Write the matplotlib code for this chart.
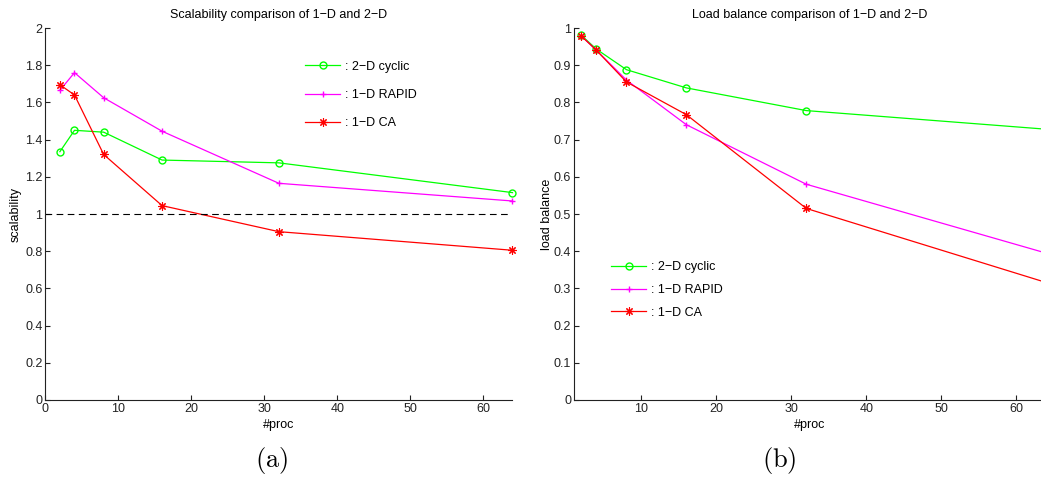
import matplotlib
matplotlib.use('Agg')
import matplotlib.pyplot as plt
import numpy as np
from matplotlib.ticker import FuncFormatter

plt.rcParams['font.family'] = ['Liberation Sans', 'DejaVu Sans']
plt.rcParams['mathtext.fontset'] = 'cm'

# data
procs = [2, 4, 8, 16, 32, 64]
labels = [': 2\u2212D cyclic', ': 1\u2212D RAPID', ': 1\u2212D CA']

scal_cyclic = [1.335, 1.45, 1.44, 1.29, 1.275, 1.115]
scal_rapid = [1.665, 1.76, 1.625, 1.445, 1.165, 1.07]
scal_ca = [1.695, 1.64, 1.32, 1.045, 0.905, 0.805]

lb_cyclic = [0.980, 0.943, 0.888, 0.839, 0.778, 0.728]
lb_rapid = [0.978, 0.940, 0.860, 0.740, 0.580, 0.395]
lb_ca = [0.978, 0.940, 0.855, 0.767, 0.515, 0.316]

colors = ['#00ff00', '#ff00ff', '#ff0000']
markers = ['o', '+', (8, 2, 0)]
msizes = [5.0, 5.0, 6.0]
mews = [1.0, 1.0, 0.8]

fs = 9

fig = plt.figure(figsize=(10.41, 4.78), dpi=100)
fig.patch.set_facecolor('white')

ax1 = fig.add_axes([0.0435, 0.1632, 0.4488, 0.7782])
ax2 = fig.add_axes([0.5514, 0.1632, 0.4534, 0.7782])

fmt = FuncFormatter(lambda v, p: '%g' % round(v, 3))


def style(ax):
    for s in ['top', 'right']:
        ax.spines[s].set_visible(False)
    for s in ['left', 'bottom']:
        ax.spines[s].set_linewidth(0.8)
        ax.spines[s].set_color('#222222')
    ax.tick_params(direction='in', length=3.5, width=0.8, labelsize=fs,
                   colors='#222222', pad=2)
    ax.yaxis.set_major_formatter(fmt)


# (a) scalability
series = [scal_cyclic, scal_rapid, scal_ca]
for y, c, m, ms, mw, lab in zip(series, colors, markers, msizes, mews, labels):
    ax1.plot(procs, y, color=c, lw=0.9, marker=m, ms=ms, mfc='none',
             mec=c, mew=mw, label=lab, clip_on=False)
ax1.plot([0, 64], [1, 1], 'k--', lw=0.8, dashes=(6, 4))
ax1.set_xlim(0, 64)
ax1.set_ylim(0, 2)
ax1.set_xticks(np.arange(0, 61, 10))
ax1.set_yticks(np.arange(0, 2.01, 0.2))
style(ax1)
ax1.set_title('Scalability comparison of 1\u2212D and 2\u2212D', fontsize=fs, pad=7)
ax1.set_xlabel('#proc', fontsize=fs)
ax1.set_ylabel('scalability', fontsize=fs)
ax1.xaxis.set_label_coords(0.5, -0.052)
ax1.yaxis.set_label_coords(-0.05, 0.5)
ax1.legend(loc='upper left', bbox_to_anchor=(0.293, 0.873),
           bbox_transform=fig.transFigure, frameon=False, fontsize=fs,
           handlelength=2.8, handletextpad=0.4, labelspacing=1.3,
           borderpad=0, borderaxespad=0)

# (b) load balance
series = [lb_cyclic, lb_rapid, lb_ca]
for y, c, m, ms, mw, lab in zip(series, colors, markers, msizes, mews, labels):
    ax2.plot(procs, y, color=c, lw=0.9, marker=m, ms=ms, mfc='none',
             mec=c, mew=mw, label=lab, clip_on=False)
ax2.set_xlim(1, 64)
ax2.set_ylim(0, 1)
ax2.set_xticks(np.arange(10, 61, 10))
ax2.set_yticks(np.arange(0, 1.01, 0.1))
style(ax2)
ax2.set_title('Load balance comparison of 1\u2212D and 2\u2212D', fontsize=fs, pad=7)
ax2.set_xlabel('#proc', fontsize=fs)
ax2.set_ylabel('load balance', fontsize=fs)
ax2.xaxis.set_label_coords(0.5, -0.052)
ax2.yaxis.set_label_coords(-0.045, 0.5)
ax2.legend(loc='upper left', bbox_to_anchor=(0.587, 0.453),
           bbox_transform=fig.transFigure, frameon=False, fontsize=fs,
           handlelength=2.8, handletextpad=0.4, labelspacing=0.85,
           borderpad=0, borderaxespad=0)

fig.text(272 / 1041, 1 - 460 / 478, r'$\mathrm{(a)}$', fontsize=19,
         ha='center', va='center')
fig.text(779 / 1041, 1 - 460 / 478, r'$\mathrm{(b)}$', fontsize=19,
         ha='center', va='center')

fig.savefig('out.png', dpi=100, facecolor='white')
